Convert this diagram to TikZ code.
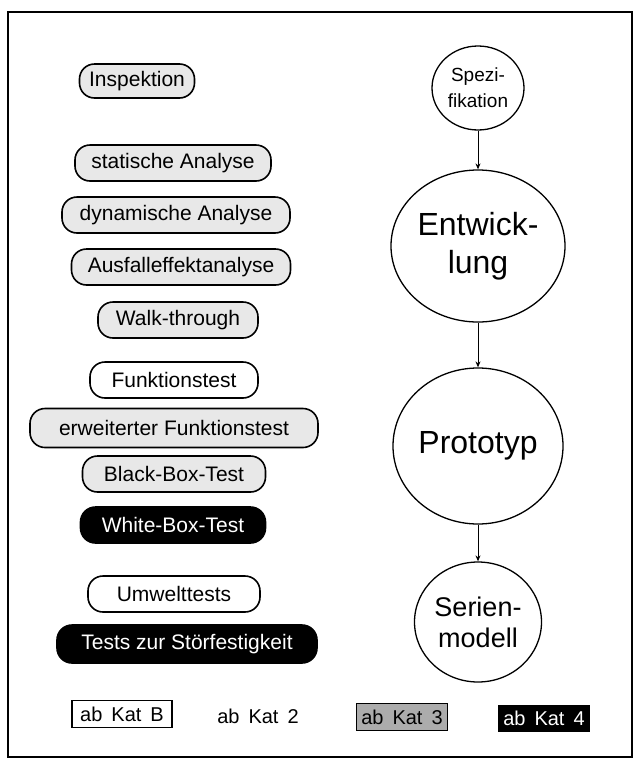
\documentclass[tikz,border=0pt]{standalone}
\usepackage{fontspec}
\setmainfont{Liberation Sans}
\usetikzlibrary{shapes.geometric,arrows.meta}
\newcommand\legendfont{\fontsize{20}{23}\selectfont\spaceskip=0.45em\relax}
\begin{document}
\begin{tikzpicture}[x=1pt,y=-1pt,
  pill/.style={draw=black,line width=1.6pt,rounded corners=15pt,minimum height=36pt,
    inner sep=0pt,font=\fontsize{21}{24}\selectfont,anchor=center},
  katB/.style={pill,fill=white,text=black},
  katII/.style={pill,fill=gray!18,text=black},
  katIV/.style={pill,fill=black,text=white},
  phase/.style={draw=black,line width=1.3pt,ellipse,inner sep=0pt,align=center},
  flow/.style={line width=1pt,-{Stealth[length=6pt,width=5pt]}},
  legendbox/.style={line width=1.3pt,minimum height=27pt,inner sep=0pt,
    font=\legendfont}
]
\useasboundingbox (0,0) rectangle (636,761);
% outer frame
\draw[line width=1.3pt] (8,12) rectangle (632,757);

% review and analysis methods
\node[katII,minimum width=115pt,minimum height=34pt] (insp) at (137,81) {Inspektion};
\node[katII,minimum width=196pt] (stat) at (173,163) {statische Analyse};
\node[katII,minimum width=228pt] (dyn) at (176,215) {dynamische Analyse};
\node[katII,minimum width=219pt] (ausf) at (181,267) {Ausfalleffektanalyse};
\node[katII,minimum width=160pt] (walk) at (178,320) {Walk-through};

% functional tests
\node[katB,minimum width=168pt] (funk) at (174,380) {Funktionstest};
\node[katII,minimum width=288pt,minimum height=39pt] (erwf) at (174,428) {erweiterter Funktionstest};
\node[katII,minimum width=183pt] (bbt) at (174,474) {Black-Box-Test};
\node[katIV,minimum width=185pt] (wbt) at (173,525) {White-Box-Test};

% environmental tests
\node[katB,minimum width=172pt] (umw) at (174,594) {Umwelttests};
\node[katIV,minimum width=260pt,minimum height=38pt] (stoer) at (187,644) {Tests zur Störfestigkeit};

% development phases
\node[phase,minimum width=92pt,minimum height=84pt,font=\fontsize{19}{26}\selectfont]
  (spez) at (478,88) {Spezi-\\fikation};
\node[phase,minimum width=174pt,minimum height=152pt,font=\fontsize{32}{38}\selectfont]
  (entw) at (478,246) {Entwick-\\lung};
\node[phase,minimum width=170pt,minimum height=156pt,font=\fontsize{32}{36}\selectfont]
  (proto) at (478,446) {Prototyp};
\node[phase,minimum width=127pt,minimum height=120pt,font=\fontsize{27}{31}\selectfont]
  (serie) at (478,622) {Serien-\\modell};

\draw[flow] (spez) -- (entw);
\draw[flow] (entw) -- (proto);
\draw[flow] (proto) -- (serie);

% legend
\node[legendbox,draw=black,fill=white,minimum width=100pt] (legB) at (122,714) {ab Kat B};
\node[legendbox,minimum width=84pt] (leg2) at (258,716) {ab Kat 2};
\node[legendbox,draw=black,fill=gray!65,minimum width=91pt] (leg3) at (402,717) {ab Kat 3};
\node[legendbox,fill=black,text=white,minimum width=92pt] (leg4) at (544,718) {ab Kat 4};
\end{tikzpicture}
\end{document}
